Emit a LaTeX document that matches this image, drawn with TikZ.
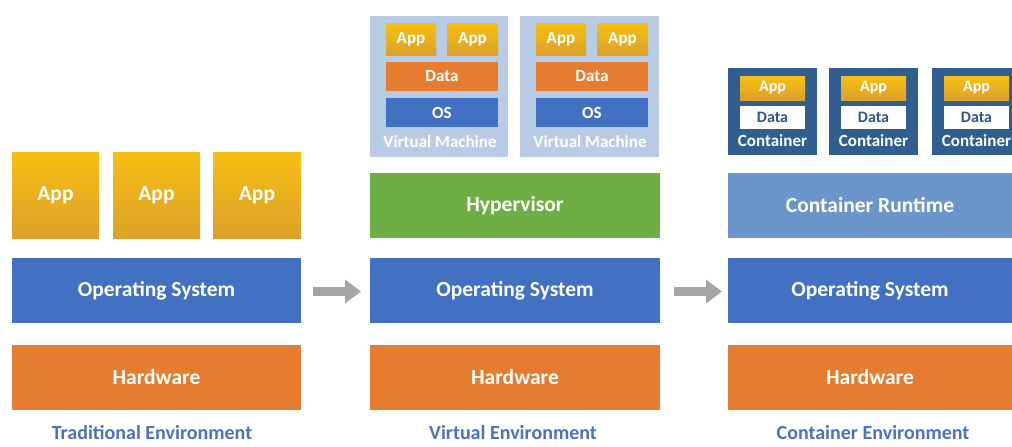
\documentclass[tikz,border=0pt]{standalone}
\usepackage{fontspec}
\setmainfont{Carlito}
\usetikzlibrary{arrows.meta}
\definecolor{appT}{HTML}{F6C012}
\definecolor{appB}{HTML}{DDA02A}
\definecolor{osblue}{HTML}{4270C2}
\definecolor{hworange}{HTML}{E67C2F}
\definecolor{hvgreen}{HTML}{6FAE45}
\definecolor{crblue}{HTML}{6C95CB}
\definecolor{vmbg}{HTML}{B9CBE5}
\definecolor{cbox}{HTML}{2F5E8F}
\definecolor{arrowgray}{HTML}{A5A5A5}
\definecolor{labblue}{HTML}{4A72BF}
\definecolor{datatext}{HTML}{2F5597}
\tikzset{
  blk/.style={rectangle, anchor=north west, inner sep=0pt, outer sep=0pt, text=white, font=\bfseries},
  appbox/.style={blk, top color=appT, bottom color=appB, draw=none},
  osbox/.style={blk, fill=osblue},
  hwbox/.style={blk, fill=hworange},
  hvbox/.style={blk, fill=hvgreen},
  crbox/.style={blk, fill=crblue},
  vmbox/.style={blk, fill=vmbg},
  cbbox/.style={blk, fill=cbox},
  datawhite/.style={blk, fill=white, text=datatext},
  envlabel/.style={text=labblue, font=\bfseries\fontsize{20}{22}\selectfont, inner sep=0pt, anchor=base},
  grayarrow/.style={line width=9pt, draw=arrowgray, -{Triangle[length=16pt,width=23pt]}}
}
\begin{document}
\begin{tikzpicture}[x=1pt,y=-1pt]
\useasboundingbox (0,0) rectangle (1012,447);
\fill[white] (0,0) rectangle (1012,447);
\def\bigfont{\fontsize{21.5}{24}\selectfont}
\def\vmfont{\fontsize{17}{19}\selectfont}
\def\cfont{\fontsize{16}{18}\selectfont}
% ---------- Traditional ----------
\node[appbox, minimum width=87pt, minimum height=86pt, font=\bfseries\bigfont] (ta1) at (12,152) {App};
\node[appbox, minimum width=87pt, minimum height=86pt, font=\bfseries\bigfont] (ta2) at (113,152) {App};
\node[appbox, minimum width=88pt, minimum height=86pt, font=\bfseries\bigfont] (ta3) at (213,152) {App};
\node[osbox, minimum width=289pt, minimum height=65pt, font=\bfseries\bigfont] (tos) at (12,258) {Operating System};
\node[hwbox, minimum width=289pt, minimum height=65pt, font=\bfseries\bigfont] (thw) at (12,345) {Hardware};
\node[envlabel] (tlab) at (152,439) {Traditional Environment};
% ---------- Virtual ----------
\node[vmbox, minimum width=138pt, minimum height=141pt] (vm1) at (370,16) {};
\node[vmbox, minimum width=139pt, minimum height=141pt] (vm2) at (520,16) {};
\foreach \n/\x in {1/370,2/520}{
  \node[appbox, minimum width=50pt, minimum height=32pt, font=\bfseries\vmfont] (v\n a1) at (\x+16,23) {App};
  \node[appbox, minimum width=51pt, minimum height=32pt, font=\bfseries\vmfont] (v\n a2) at (\x+77,23) {App};
  \node[hwbox, minimum width=112pt, minimum height=29pt, font=\bfseries\vmfont] (v\n d) at (\x+16,62) {Data};
  \node[osbox, minimum width=112pt, minimum height=29pt, font=\bfseries\vmfont] (v\n o) at (\x+16,98) {OS};
  \node[text=white, font=\bfseries\vmfont, inner sep=0pt] (v\n t) at (\x+70,142) {Virtual Machine};
}
\node[hvbox, minimum width=290pt, minimum height=65pt, font=\bfseries\bigfont] (hv) at (370,173) {Hypervisor};
\node[osbox, minimum width=290pt, minimum height=65pt, font=\bfseries\bigfont] (vos) at (370,258) {Operating System};
\node[hwbox, minimum width=290pt, minimum height=65pt, font=\bfseries\bigfont] (vhw) at (370,345) {Hardware};
\node[envlabel] (vlab) at (513,439) {Virtual Environment};
% ---------- Container ----------
\foreach \n/\x/\w in {1/728/89,2/829/89,3/932/82}{
  \node[cbbox, minimum width=\w pt, minimum height=87pt] (c\n) at (\x,68) {};
  \node[appbox, minimum width=65pt, minimum height=24pt, font=\bfseries\cfont] (c\n a) at (\x+12,76) {App};
  \node[datawhite, minimum width=65pt, minimum height=23pt, font=\bfseries\cfont] (c\n d) at (\x+12,106) {Data};
  \node[text=white, font=\bfseries\fontsize{17}{19}\selectfont, inner sep=0pt] (c\n t) at (\x+44.5,141) {Container};
}
\node[crbox, minimum width=284pt, minimum height=65pt, font=\bfseries\bigfont] (cr) at (728,173) {Container Runtime};
\node[osbox, minimum width=284pt, minimum height=65pt, font=\bfseries\bigfont] (cos) at (728,258) {Operating System};
\node[hwbox, minimum width=284pt, minimum height=65pt, font=\bfseries\bigfont] (chw) at (728,345) {Hardware};
\node[envlabel] (clab) at (873,439) {Container Environment};
% ---------- Arrows ----------
\coordinate (a1s) at (313,291.5);
\coordinate (a1e) at (361,291.5);
\coordinate (a2s) at (674,291.5);
\coordinate (a2e) at (722,291.5);
\draw[grayarrow] (a1s) -- (a1e);
\draw[grayarrow] (a2s) -- (a2e);
\end{tikzpicture}
\end{document}
